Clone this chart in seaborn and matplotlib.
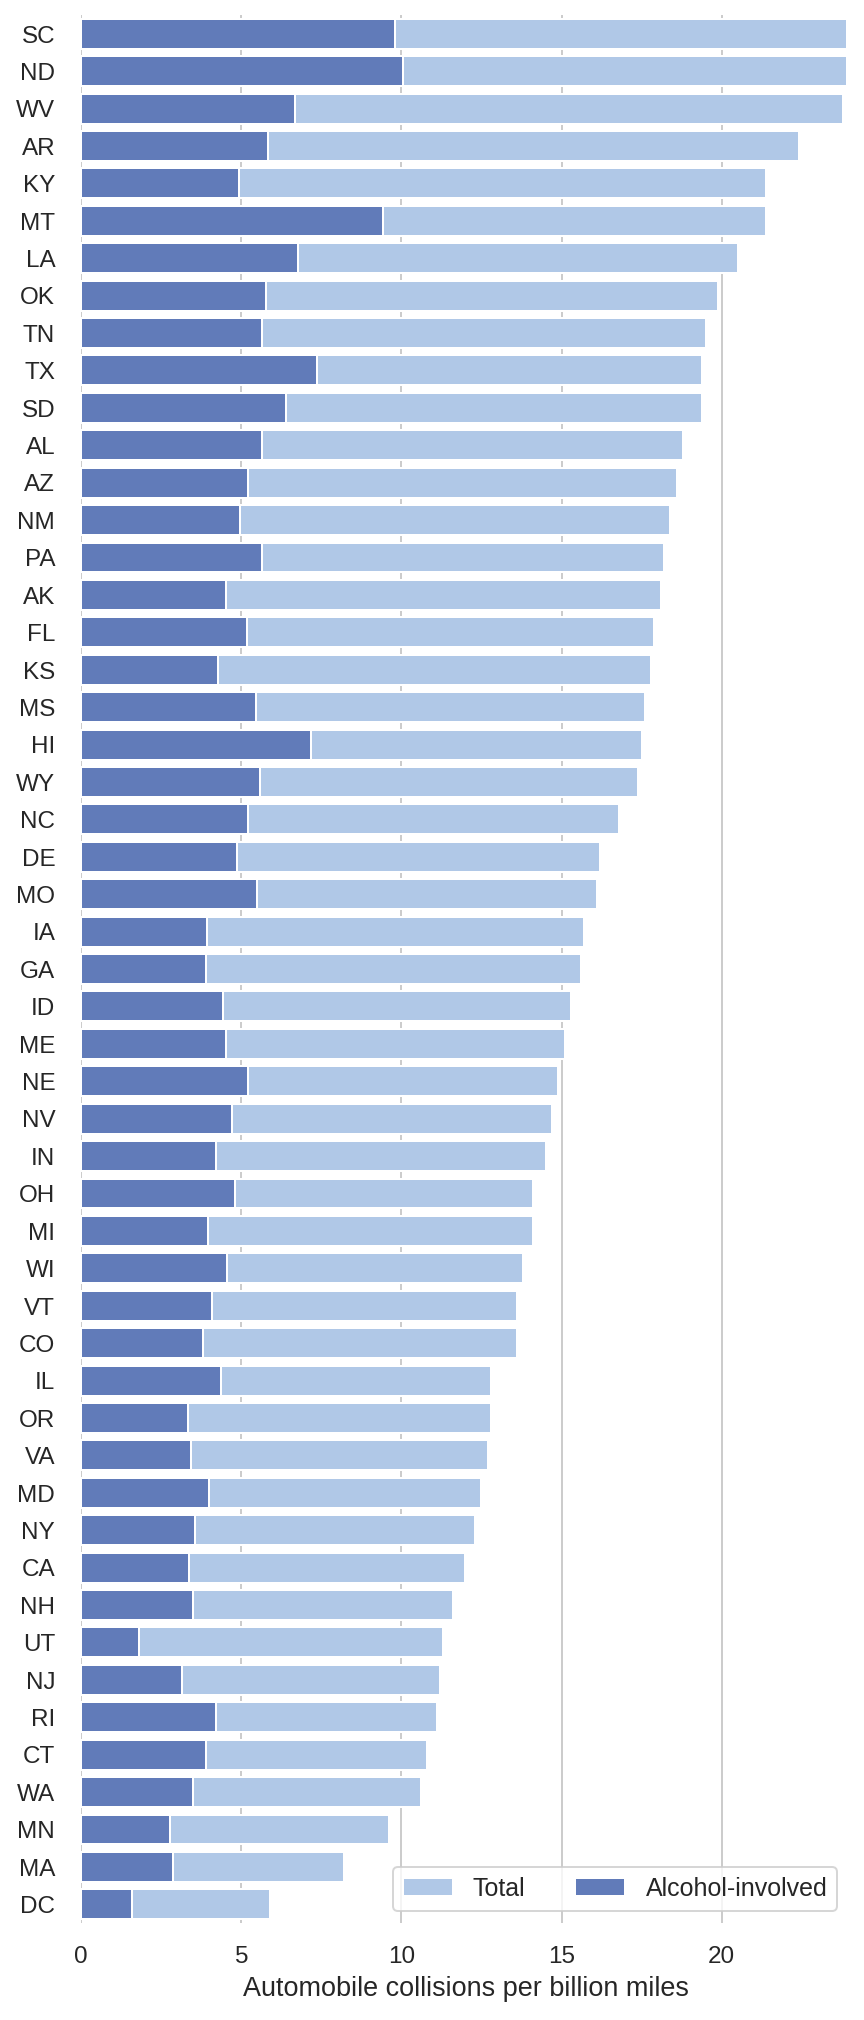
import pandas as pd
import matplotlib.pyplot as plt
import seaborn as sns

# Collision rates per state, sorted by total
abbrev = ['SC', 'ND', 'WV', 'AR', 'KY', 'MT', 'LA', 'OK', 'TN', 'TX', 'SD', 'AL', 'AZ',
          'NM', 'PA', 'AK', 'FL', 'KS', 'MS', 'HI', 'WY', 'NC', 'DE', 'MO', 'IA', 'GA',
          'ID', 'ME', 'NE', 'NV', 'IN', 'OH', 'MI', 'WI', 'VT', 'CO', 'IL', 'OR', 'VA',
          'MD', 'NY', 'CA', 'NH', 'UT', 'NJ', 'RI', 'CT', 'WA', 'MN', 'MA', 'DC']
total = [23.9, 23.9, 23.8, 22.4, 21.4, 21.4, 20.5, 19.9, 19.5, 19.4, 19.4, 18.8, 18.6,
         18.4, 18.2, 18.1, 17.9, 17.8, 17.6, 17.5, 17.4, 16.8, 16.2, 16.1, 15.7, 15.6,
         15.3, 15.1, 14.9, 14.7, 14.5, 14.1, 14.1, 13.8, 13.6, 13.6, 12.8, 12.8, 12.7,
         12.5, 12.3, 12.0, 11.6, 11.3, 11.2, 11.1, 10.8, 10.6, 9.6, 8.2, 5.9]
alcohol = [9.799, 10.038, 6.664, 5.824, 4.922, 9.416, 6.765, 5.771, 5.655, 7.372, 6.402,
           5.640, 5.208, 4.968, 5.642, 4.525, 5.191, 4.272, 5.456, 7.175, 5.568, 5.208,
           4.860, 5.474, 3.925, 3.900, 4.437, 4.530, 5.215, 4.704, 4.205, 4.794, 3.948,
           4.554, 4.080, 3.808, 4.352, 3.328, 3.429, 4.000, 3.567, 3.360, 3.480, 1.808,
           3.136, 4.218, 3.888, 3.498, 2.784, 2.870, 1.593]

crashes = pd.DataFrame({'abbrev': abbrev, 'total': total, 'alcohol': alcohol})

sns.set_theme(style="whitegrid", font_scale=1.1)
plt.rcParams['font.family'] = ['Liberation Sans', 'DejaVu Sans']
f, ax = plt.subplots(figsize=(6, 14.03))

# Total collisions
sns.barplot(x="total", y="abbrev", data=crashes, label="Total",
            color="#b0c8e7", saturation=1)

# Alcohol-involved collisions
sns.barplot(x="alcohol", y="abbrev", data=crashes, label="Alcohol-involved",
            color="#617bb9", saturation=1)

ax.legend(ncol=2, loc="lower right", frameon=True, fontsize=12.5)
ax.set(xlim=(0, 24), ylabel="", xlabel="Automobile collisions per billion miles")
ax.xaxis.label.set_size(13.5)
ax.tick_params(axis='y', pad=7)
ax.tick_params(axis='x', pad=5.5)
sns.despine(left=True, bottom=True)

plt.subplots_adjust(left=0.094, right=0.9835, top=0.9924, bottom=0.048)
plt.savefig('out.png', dpi=144)
